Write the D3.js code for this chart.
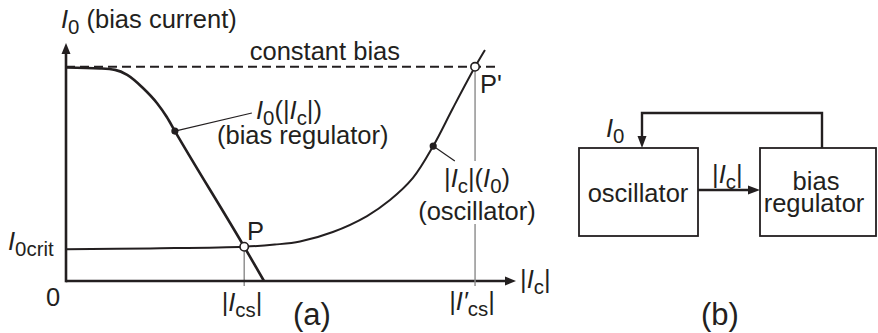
<!DOCTYPE html>
<html><head><meta charset="utf-8">
<script src="https://cdn.jsdelivr.net/npm/d3@7"></script>
<style>
html,body{margin:0;padding:0;background:#fff;}
svg text{font-family:"Liberation Sans", Arial, Helvetica, sans-serif; fill:#231f20; white-space:pre;}
</style></head><body>
<svg id="chart" width="878" height="333"></svg>
<script>
// Bias regulator characteristic I0(|Ic|)
const regulatorX = [0, 7.6, 10.9, 13.6, 17.1, 20.2, 22.4, 24.2, 39.6, 44.0];
const regulatorY = [89.7, 89.3, 88.7, 86.6, 81.1, 74.8, 68.9, 63.0, 14.4, 0];
// Oscillator characteristic |Ic|(I0)
const oscillatorX = [0, 18.7, 39.6, 46.4, 52.0, 59.3, 66.9, 72.0, 77.1, 81.6, 86.0, 90.9, 93.1];
const oscillatorY = [13.3, 13.7, 14.4, 15.3, 16.6, 20.6, 27.3, 34.0, 43.3, 56.7, 72.7, 90.0, 97.1];
// Constant bias level and operating points
const constantBias = 90;
const operatingPoints = [{name: "P", x: 39.6, y: 14.4}, {name: "P'", x: 90.9, y: 90}];
// Curve markers with their leader-line ends
const curveMarkers = [
  {x: 24.2, y: 63.0, lx: 41.3, ly: 70.6},
  {x: 81.6, y: 56.7, lx: 86.4, ly: 50.4}
];
const dashEnd = 95.5;

const ink = "#231f20";
const fs = 25.5;
const svg = d3.select("#chart");
const x = d3.scaleLinear().domain([0, 100]).range([66, 516]);
const y = d3.scaleLinear().domain([0, 100]).range([281, 43]);

// text with italic / subscript runs
function rich(parent, px, py, parts, anchor, size) {
  const t = parent.append("text").attr("x", px).attr("y", py)
    .attr("text-anchor", anchor || "start").style("font-size", (size || fs) + "px");
  let shift = 0;
  parts.forEach(p => {
    const [s, k] = typeof p === "string" ? [p, ""] : p;
    const ts = t.append("tspan").text(s);
    const target = k.includes("sub") ? 6 : 0;
    if (target !== shift) { ts.attr("dy", target - shift); shift = target; }
    if (k.includes("sub")) ts.style("font-size", "0.8em");
    if (k.includes("i")) ts.style("font-style", "italic");
  });
  return t;
}
function arrowHead(g, tx, ty, dir, len, half) {
  const [dx, dy] = dir;
  const bx = tx - dx * len, by = ty - dy * len;
  g.append("path")
    .attr("d", `M${tx},${ty}L${bx - dy * half},${by + dx * half}L${bx + dy * half},${by - dx * half}Z`)
    .attr("fill", ink);
}

const a = svg.append("g");

// dashed constant-bias level
a.append("line").attr("x1", x(0)).attr("x2", x(dashEnd)).attr("y1", y(constantBias)).attr("y2", y(constantBias))
  .attr("stroke", ink).attr("stroke-width", 2).attr("stroke-dasharray", "9,5");

// projection line from P
const p0 = operatingPoints[0];
a.append("line").attr("x1", x(p0.x)).attr("x2", x(p0.x)).attr("y1", y(p0.y)).attr("y2", y(0) + 5)
  .attr("stroke", "#8a8a8a").attr("stroke-width", 1.4);

// oscillator and regulator curves
const oscLine = d3.line().x(d => x(d[0])).y(d => y(d[1])).curve(d3.curveCatmullRom.alpha(0.5));
const regLine = d3.line().x(d => x(d[0])).y(d => y(d[1])).curve(d3.curveMonotoneX);
a.append("path").datum(oscillatorX.map((v, i) => [v, oscillatorY[i]]))
  .attr("d", oscLine).attr("fill", "none").attr("stroke", ink).attr("stroke-width", 2);
a.append("path").datum(regulatorX.map((v, i) => [v, regulatorY[i]]))
  .attr("d", regLine).attr("fill", "none").attr("stroke", ink).attr("stroke-width", 2.6);

// axes
a.append("line").attr("x1", x(0)).attr("x2", x(100) - 9).attr("y1", y(0)).attr("y2", y(0))
  .attr("stroke", ink).attr("stroke-width", 2.6);
arrowHead(a, x(100), y(0), [1, 0], 11, 4.5);
a.append("line").attr("x1", x(0)).attr("x2", x(0)).attr("y1", y(0) + 1.3).attr("y2", y(100) + 9)
  .attr("stroke", ink).attr("stroke-width", 2.6);
arrowHead(a, x(0), y(100), [0, -1], 11, 4.5);

// leader lines and markers
curveMarkers.forEach(m => {
  a.append("line").attr("x1", x(m.x)).attr("y1", y(m.y)).attr("x2", x(m.lx)).attr("y2", y(m.ly))
    .attr("stroke", ink).attr("stroke-width", 1.2);
  a.append("circle").attr("cx", x(m.x)).attr("cy", y(m.y)).attr("r", 3.6).attr("fill", ink);
});

// curve labels
rich(a, 256, 119, [["I", "i"], ["0", "sub"], "(|", ["I", "i"], ["c", "sub"], "|)"]);
rich(a, 217, 144, ["(bias regulator)"]);
const oscLabel = a.append("g");
rich(oscLabel, 477, 187, ["|", ["I", "i"], ["c", "sub"], "|(", ["I", "i"], ["0", "sub"], ")"], "middle");
rich(oscLabel, 477, 220, ["(oscillator)"], "middle");

// projection from P' broken around the oscillator label
const pp = operatingPoints[1];
const bb = oscLabel.node().getBBox();
[[y(pp.y), bb.y - 3], [bb.y + bb.height - 1, y(0) + 5]].forEach(([y1, y2]) => {
  a.append("line").attr("x1", x(pp.x)).attr("x2", x(pp.x)).attr("y1", y1).attr("y2", y2)
    .attr("stroke", "#8a8a8a").attr("stroke-width", 1.4);
});

// operating points
operatingPoints.forEach(p => {
  a.append("circle").attr("cx", x(p.x)).attr("cy", y(p.y)).attr("r", 4.2)
    .attr("fill", "#fff").attr("stroke", ink).attr("stroke-width", 1.6);
});
rich(a, 247, 240, ["P"]);
rich(a, 480, 93, ["P'"]);

// axis texts
rich(a, 61, 28, [["I", "i"], ["0", "sub"], " (bias current)"]);
rich(a, 400, 60, ["constant bias"], "end");
rich(a, 8, 250, [["I", "i"], ["0crit", "sub"]]);
rich(a, 53, 306, ["0"], "middle");
rich(a, 242, 311, ["|", ["I", "i"], ["cs", "sub"], "|"], "middle");
rich(a, 472, 310, ["|", ["I\u2032", "i"], ["cs", "sub"], "|"], "middle");
rich(a, 520, 288, ["|", ["I", "i"], ["c", "sub"], "|"]);
rich(a, 312, 325, ["(a)"], "middle", 31);

// block diagram (b)
const b = svg.append("g");
b.append("rect").attr("x", 579).attr("y", 148).attr("width", 119).attr("height", 88)
  .attr("fill", "none").attr("stroke", ink).attr("stroke-width", 1.8);
b.append("rect").attr("x", 760).attr("y", 148).attr("width", 116).attr("height", 88)
  .attr("fill", "none").attr("stroke", ink).attr("stroke-width", 1.8);
b.append("path").attr("d", "M822,148V113H642V137").attr("fill", "none").attr("stroke", ink).attr("stroke-width", 2.4);
arrowHead(b, 642, 148, [0, 1], 12, 4.5);
b.append("line").attr("x1", 698).attr("x2", 749).attr("y1", 190).attr("y2", 190).attr("stroke", ink).attr("stroke-width", 2.4);
arrowHead(b, 760, 190, [1, 0], 12, 4.5);
rich(b, 606, 137, [["I", "i"], ["0", "sub"]]);
rich(b, 712, 183, ["|", ["I", "i"], ["c", "sub"], "|"]);
rich(b, 638, 202, ["oscillator"], "middle");
rich(b, 816, 190, ["bias"], "middle");
rich(b, 814, 212, ["regulator"], "middle");
rich(b, 720, 325, ["(b)"], "middle", 31);
</script>
</body></html>
